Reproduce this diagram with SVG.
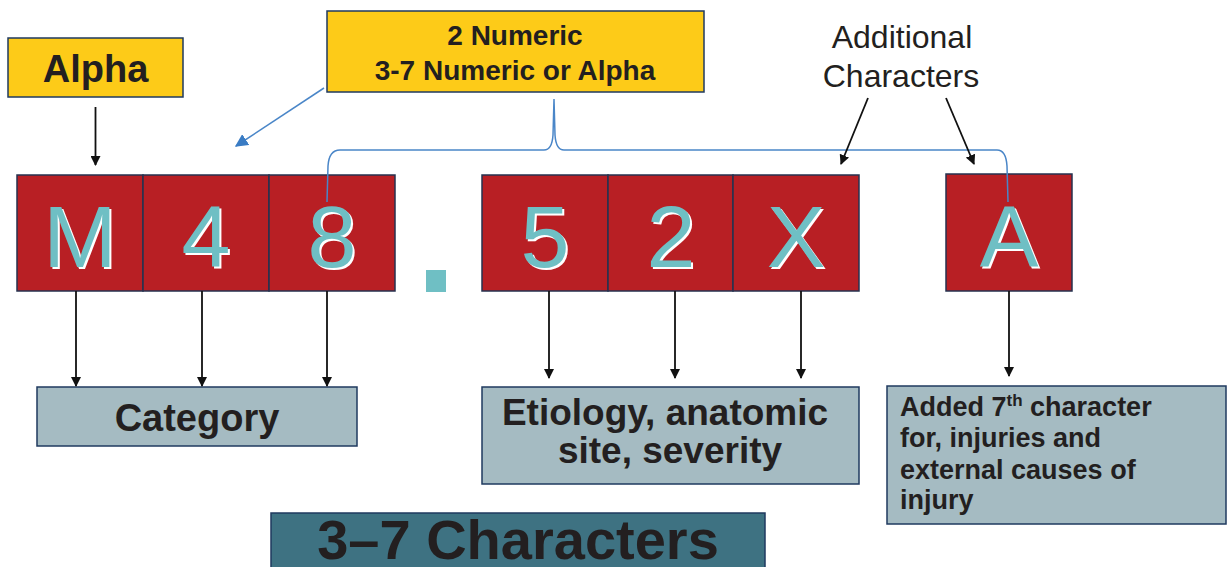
<svg xmlns="http://www.w3.org/2000/svg" width="1227" height="567" viewBox="0 0 1227 567">
<style>
.yel{fill:#fdcb18;stroke:#1f3a5f;stroke-width:1.5}
.red{fill:#b81f24;stroke:#26324f;stroke-width:1.5}
.gry{fill:#a5bbc2;stroke:#1f3a5f;stroke-width:1.5}
.dk{fill:#3e7282;stroke:#1f3a5f;stroke-width:1.5}
.b{font-family:"Liberation Sans",Arial,sans-serif;font-weight:bold;fill:#231f20}
.r{font-family:"Liberation Sans",Arial,sans-serif;fill:#231f20}
.L{font-family:"Liberation Sans",Arial,sans-serif;font-size:88px;text-anchor:middle}
.sh{fill:#ffffff}
.tl{fill:#6fbfc4}
.k{stroke:#111;stroke-width:1.8;fill:none}
.bl{stroke:#4a86c8;stroke-width:1.5;fill:none}
</style>
<defs>
<marker id="ah" viewBox="0 0 10 10" refX="9" refY="5" markerWidth="10" markerHeight="10" markerUnits="userSpaceOnUse" orient="auto">
<path d="M0,0 L10,5 L0,10 z" fill="#111"/>
</marker>
<marker id="ahb" viewBox="0 0 10 10" refX="9" refY="5" markerWidth="13" markerHeight="13" markerUnits="userSpaceOnUse" orient="auto">
<path d="M0,0 L10,5 L0,10 z" fill="#3a7cc4"/>
</marker>
</defs>

<g id="alpha">
<rect class="yel" x="8" y="38" width="175" height="59"/>
<text class="b" x="95.5" y="82" font-size="38" text-anchor="middle">Alpha</text>
</g>

<g id="numeric">
<rect class="yel" x="327" y="11" width="377" height="81"/>
<text class="b" x="515" y="45" font-size="28" text-anchor="middle">2 Numeric</text>
<text class="b" x="515" y="80" font-size="28" text-anchor="middle">3-7 Numeric or Alpha</text>
</g>

<g id="additional">
<text class="r" x="902" y="48" font-size="32" text-anchor="middle">Additional</text>
<text class="r" x="901" y="87" font-size="32" text-anchor="middle">Characters</text>
</g>

<g id="box-M">
<rect class="red" x="17" y="175" width="126" height="116"/>
<text class="L sh" x="82" y="269">M</text>
<text class="L tl" x="80" y="267">M</text>
</g>
<g id="box-4">
<rect class="red" x="143" y="175" width="126" height="116"/>
<text class="L sh" x="208" y="269">4</text>
<text class="L tl" x="206" y="267">4</text>
</g>
<g id="box-8">
<rect class="red" x="269" y="175" width="126" height="116"/>
<text class="L sh" x="334" y="269">8</text>
<text class="L tl" x="332" y="267">8</text>
</g>
<g id="dot">
<rect x="426" y="270" width="20" height="22" fill="#6fbfc4"/>
</g>
<g id="box-5">
<rect class="red" x="482" y="175" width="126" height="116"/>
<text class="L sh" x="547" y="269">5</text>
<text class="L tl" x="545" y="267">5</text>
</g>
<g id="box-2">
<rect class="red" x="608" y="175" width="125" height="116"/>
<text class="L sh" x="673" y="269">2</text>
<text class="L tl" x="671" y="267">2</text>
</g>
<g id="box-X">
<rect class="red" x="733" y="175" width="126" height="116"/>
<text class="L sh" x="798" y="269">X</text>
<text class="L tl" x="796" y="267">X</text>
</g>
<g id="box-A">
<rect class="red" x="946" y="174" width="126" height="117"/>
<text class="L sh" x="1011" y="269">A</text>
<text class="L tl" x="1009" y="267">A</text>
</g>

<g id="category">
<rect class="gry" x="37" y="387" width="320" height="59"/>
<text class="b" x="197" y="431" font-size="38" text-anchor="middle">Category</text>
</g>

<g id="etiology">
<rect class="gry" x="482" y="387" width="377" height="97"/>
<text class="b" x="665" y="425" font-size="37" text-anchor="middle">Etiology, anatomic</text>
<text class="b" x="670" y="463" font-size="37" text-anchor="middle">site, severity</text>
</g>

<g id="added">
<rect class="gry" x="887" y="386" width="339" height="138"/>
<text class="b" x="900" y="416" font-size="27">Added 7<tspan font-size="17" dy="-10">th</tspan><tspan dy="10"> character</tspan></text>
<text class="b" x="900" y="447" font-size="27">for, injuries and</text>
<text class="b" x="900" y="479" font-size="27">external causes of</text>
<text class="b" x="900" y="509" font-size="27">injury</text>
</g>

<g id="total">
<rect class="dk" x="271" y="513" width="494" height="60"/>
<text class="b" x="518" y="559" font-size="56" text-anchor="middle">3–7 Characters</text>
</g>

<g id="connectors">
<line class="k" x1="95.5" y1="107" x2="95.5" y2="165" marker-end="url(#ah)"/>
<line class="bl" x1="324" y1="88" x2="236" y2="146" marker-end="url(#ahb)"/>
<path class="bl" d="M327,202 L328,166 Q329,150 340,150 L544,150 Q552,150 553,135 L554,99 M554,99 L555,135 Q556,150 564,150 L997,150 Q1006,150 1007,166 L1008,202"/>
<line class="k" x1="868" y1="98" x2="841" y2="164" marker-end="url(#ah)"/>
<line class="k" x1="946" y1="98" x2="974" y2="164" marker-end="url(#ah)"/>
<line class="k" x1="76" y1="291" x2="76" y2="386" marker-end="url(#ah)"/>
<line class="k" x1="202" y1="291" x2="202" y2="386" marker-end="url(#ah)"/>
<line class="k" x1="327" y1="291" x2="327" y2="386" stroke-width="3" marker-end="url(#ah)"/>
<line class="k" x1="549" y1="291" x2="549" y2="378" marker-end="url(#ah)"/>
<line class="k" x1="675" y1="291" x2="675" y2="378" marker-end="url(#ah)"/>
<line class="k" x1="801" y1="291" x2="801" y2="378" marker-end="url(#ah)"/>
<line class="k" x1="1009" y1="291" x2="1009" y2="376" marker-end="url(#ah)"/>
</g>
</svg>
